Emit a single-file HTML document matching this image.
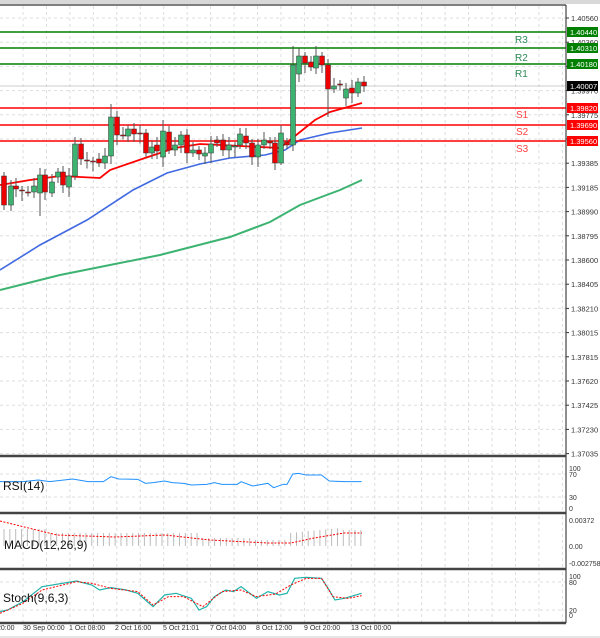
<!DOCTYPE html>
<html><head><meta charset="utf-8"><style>
html,body{margin:0;padding:0;background:#fff;}
svg{display:block;font-family:"Liberation Sans",sans-serif;}
</style></head><body>
<svg id="s" width="600" height="638" xmlns="http://www.w3.org/2000/svg"></svg>
<script>
const s=document.getElementById('s');let h='';
const W=566;
// top strip
h+='<rect x="0" y="0" width="600" height="4" fill="#d8d8d8"/><line x1="0" y1="5" x2="566" y2="5" stroke="#555" stroke-width="1.5"/>';
// vertical grid
for(let x=23;x<W;x+=23.45){
 h+=`<line x1="${x}" y1="6" x2="${x}" y2="455" stroke="#ddd" stroke-dasharray="3,3"/>`;
 h+=`<line x1="${x}" y1="459" x2="${x}" y2="512" stroke="#ddd" stroke-dasharray="3,3"/>`;
 h+=`<line x1="${x}" y1="516" x2="${x}" y2="568" stroke="#ddd" stroke-dasharray="3,3"/>`;
 h+=`<line x1="${x}" y1="572" x2="${x}" y2="622" stroke="#ddd" stroke-dasharray="3,3"/>`;
}
const ticks=["1.40560","1.40360","1.40165","1.39970","1.39775","1.39580","1.39385","1.39185","1.38990","1.38795","1.38600","1.38405","1.38210","1.38015","1.37815","1.37620","1.37425","1.37230","1.37035"];
ticks.forEach((t,i)=>{const y=18+24.2*i;
 h+=`<line x1="0" y1="${y}" x2="${W}" y2="${y}" stroke="#ddd" stroke-dasharray="3,3"/>`;
 h+=`<line x1="566" y1="${y}" x2="569" y2="${y}" stroke="#333"/>`;
 if(i!=2&&i!=5) h+=`<text x="571" y="${y+3}" font-size="7.5" fill="#333">${t}</text>`;
});
// panel grid lines
[[468,'100'],[474,'70'],[497,'30'],[508,'0']].forEach(([y,t])=>{if(t=='70'||t=='30')h+=`<line x1="0" y1="${y}" x2="${W}" y2="${y}" stroke="#ddd" stroke-dasharray="3,3"/>`;h+=`<text x="569" y="${y+3}" font-size="7" fill="#333">${t}</text>`;});
[[520,'0.00372'],[546,'0.00'],[563,'-0.002758']].forEach(([y,t])=>{h+=`<text x="569" y="${y+3}" font-size="7" fill="#333">${t}</text>`;});
h+=`<line x1="0" y1="582" x2="${W}" y2="582" stroke="#ddd" stroke-dasharray="3,3"/><line x1="0" y1="610" x2="${W}" y2="610" stroke="#ddd" stroke-dasharray="3,3"/>`;
[[576,'100'],[582,'80'],[610,'20'],[615,'0']].forEach(([y,t])=>{h+=`<text x="569" y="${y+3}" font-size="7" fill="#333">${t}</text>`;});
// MAs
const pl=(pts,c,w,extra='')=>`<polyline points="${pts.map(p=>p.join(',')).join(' ')}" fill="none" stroke="${c}" stroke-width="${w}" ${extra}/>`;
h+=pl([[0,290],[60,275],[100,267],[160,255],[230,237],[270,222],[300,205],[340,190],[362,180]],'#3cb371',2);
h+=pl([[0,270],[40,245],[87,220],[133,190],[167,173],[200,164],[230,158],[265,155],[285,150],[300,140],[330,133],[362,128]],'#4169e1',1.6);
h+=pl([[0,185],[30,180],[60,176],[100,178],[110,170],[145,158],[175,148],[200,144],[240,146],[280,148],[290,140],[305,128],[315,120],[330,112],[362,103]],'#f00',1.8);
// levels
const lv=[[32,'#008000','R3','1.40440'],[48,'#008000','R2','1.40310'],[64,'#008000','R1','1.40180'],[108,'#f00','S1','1.39820'],[125,'#f00','S2','1.39690'],[141,'#f00','S3','1.39560']];
lv.forEach(([y,c,n,v],i)=>{h+=`<line x1="0" y1="${y}" x2="${W}" y2="${y}" stroke="${c}" stroke-width="1.5"/>`;
 const ly=i<3?[43,61,77][i]:[118,135,152][i-3];
 h+=`<text x="${i<3?515:516}" y="${ly}" font-size="10" fill="${i<3?'#2e8b57':'#f44'}">${n}</text>`;
 h+=`<rect x="567" y="${y-5}" width="31" height="10" fill="${c}"/><text x="570" y="${y+3}" font-size="7.5" fill="#fff">${v}</text>`;});
h+=`<line x1="0" y1="86" x2="${W}" y2="86" stroke="#ccc"/><rect x="567" y="81" width="31" height="10" fill="#000"/><text x="570" y="89" font-size="7.5" fill="#fff">1.40007</text>`;
// candles [x,o,c]
const cd=[[4,176,205],[11,205,186],[16,186,189],[22,190,191],[28,192,192.5],[34,192,186],[40,193,175],[45,175,192],[52,193,182],[58,177,172],[63,172,185],[69,187,176],[75,176,144],[81,144,159],[87,160,160.5],[93,161,161.5],[99,159,163],[105,163,156],[111,156,117],[117,117,135],[123,135,135.5],[128,136,129],[134,129,134],[140,133,133.5],[146,133,153],[152,153,147],[157,145,151],[163,157,131],[169,132,150],[175,150,145],[181,145,135],[187,135,153],[193,153,150],[199,150,154],[205,156,153],[211,153,144],[217,140,143],[223,140,150],[229,150,145],[235,147,146],[240,145,134],[246,136,143],[252,143,157],[258,157,145],[264,145,140],[270,141,143],[275,143,163],[281,163,133],[287,142,145],[293,145,65],[299,74,56],[305,56,63],[311,62,67],[316,68,56],[322,56,65],[328,65,89],[334,89,86],[340,84,84.5],[346,98,89],[352,88,93],[358,93,82],[364,82,86]];
const hi={111:104,293:46,316:46,299:48,40:168,75:137,163:120},lo={40:216,328:117,275:170,4:210,45:200,252:165,281:165};
cd.forEach(([x,o,c],i)=>{const t=Math.min(o,c),b=Math.max(o,c);const hy=hi[x]||t-4-(i%3)*2,ly=lo[x]||b+4+(i%4)*2;
 h+=`<line x1="${x}" y1="${hy}" x2="${x}" y2="${ly}" stroke="#555"/>`;
 const col=c<o?'#3cb371':(c>o?'#e00':'#555');
 h+=`<rect x="${x-2.5}" y="${t}" width="5" height="${Math.max(1,b-t)}" fill="${col}" stroke="#333" stroke-width="0.5"/>`;});
// RSI
const kx=2.613;
const rsi=[[0,95],[60,95],[100,90],[130,95],[190,87],[230,95],[270,95],[290,80],[310,87],[360,88],[380,100],[400,98],[430,93],[450,98],[480,100],[500,105],[540,103],[560,98],[580,103],[620,103],[630,95],[660,108],[700,100],[715,113],[740,103],[750,103],[765,72],[780,70],[800,75],[840,75],[860,93],[900,95],[945,95]].map(([a,b])=>[a/kx,450+b/3]);
h+=pl(rsi,'#1e90ff',1);
h+='<text x="3" y="490" font-size="12" fill="#111">RSI(14)</text>';
// MACD histogram
for(let x=4;x<=362;x+=5.85){let top;
 if(x<50)top=529;else if(x<200)top=533;else if(x<250)top=538;else if(x<290)top=540;else if(x<340)top=533-(x-290)/10;else top=530;
 h+=`<line x1="${x}" y1="546" x2="${x}" y2="${top}" stroke="#bbb"/>`;}
h+=pl([[0,521],[57,535],[115,537],[165,535],[210,540],[268,543],[291,543],[314,538],[344,533],[362,533]],'#f00',1,'stroke-dasharray="2,1.5"');
h+='<text x="4" y="549" font-size="12" fill="#111">MACD(12,26,9)</text>';
// Stoch
const st=[[0,485],[20,480],[60,455],[110,410],[200,393],[240,405],[260,420],[290,413],[330,420],[360,430],[380,450],[400,470],[430,435],[460,430],[500,445],[520,480],[540,470],[560,440],[590,420],[610,425],[630,410],[670,445],[700,425],[730,435],[750,430],[770,385],[800,382],[840,385],[860,420],[875,450],[900,445],[945,430]].map(([a,b])=>[a/kx,450+b/3]);
const sr=[[0,490],[60,460],[110,420],[200,395],[240,400],[290,415],[360,425],[400,465],[440,440],[480,440],[530,470],[580,425],[630,420],[670,440],[720,432],[760,405],[800,385],[840,385],[870,440],[910,445],[945,437]].map(([a,b])=>[a/kx,450+b/3]);
h+=pl(st,'#20b2aa',1.2);h+=pl(sr,'#f00',1,'stroke-dasharray="2,1.5"');
h+='<text x="3" y="602" font-size="12" fill="#111">Stoch(9,6,3)</text>';
// separators and frame
[[456],[513],[569],[623]].forEach(([y])=>{h+=`<line x1="0" y1="${y}" x2="${W}" y2="${y}" stroke="#444" stroke-width="2.5"/>`;});
h+=`<line x1="566" y1="5" x2="566" y2="623" stroke="#444" stroke-width="1.2"/>`;
// bottom labels
[[-3,'20:00'],[23,'30 Sep 00:00'],[69,'1 Oct 08:00'],[115,'2 Oct 16:00'],[163,'5 Oct 21:01'],[210,'7 Oct 04:00'],[256,'8 Oct 12:00'],[304,'9 Oct 20:00'],[351,'13 Oct 00:00']].forEach(([x,t])=>{h+=`<text x="${x}" y="630" font-size="7" fill="#333">${t}</text>`;});
h+='<line x1="0" y1="637" x2="600" y2="637" stroke="#ccc"/>';
s.innerHTML=h;
</script>
</body></html>
